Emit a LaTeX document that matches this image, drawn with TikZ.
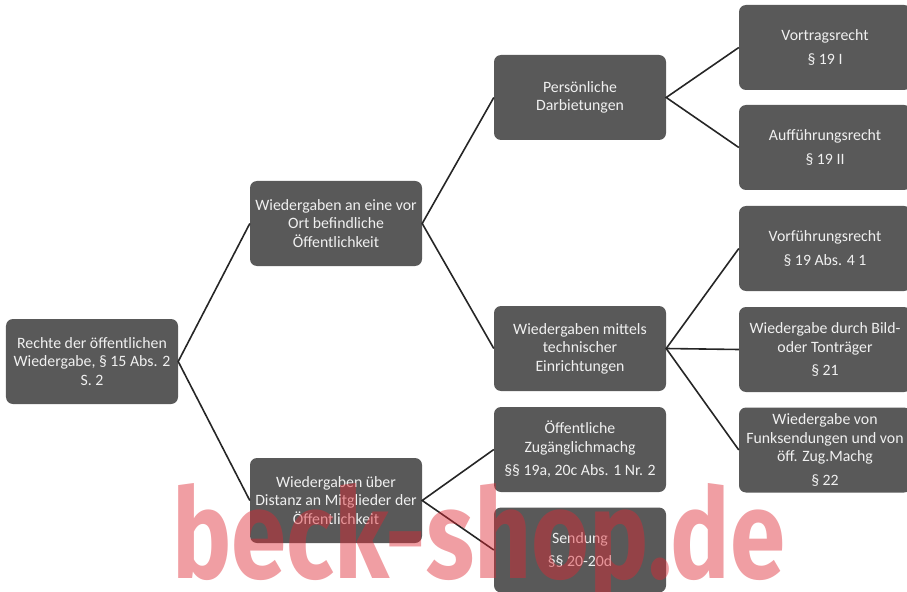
\documentclass[tikz,border=0pt]{standalone}
\usepackage{fontspec}
\setmainfont{Carlito}
\newfontfamily\wmfont{Fira Sans}
\usepackage{graphicx}
\definecolor{boxgray}{RGB}{89,89,89}
\definecolor{boxtext}{RGB}{240,240,240}
\definecolor{wmred}{RGB}{222,40,50}
\tikzset{
  rbox/.style={draw=none,fill=boxgray,rounded corners=7bp,minimum width=172bp,minimum height=85bp,
    align=center,text=boxtext,font=\fontsize{15.8bp}{18.5bp}\selectfont,inner sep=1bp},
  ast/.style={draw=black!85,line width=1.6bp}
}
\newcommand{\pgap}{\\[5bp]}

\begin{document}
\begin{tikzpicture}[x=1bp,y=-1bp]
\useasboundingbox (0,0) rectangle (907,592);

% root
\node[rbox] (rechte) at (92,361.5) {Rechte der öffentlichen\\Wiedergabe, § 15 Abs. 2\\S. 2};

% level 1
\node[rbox] (vorort) at (336,223.5) {Wiedergaben an eine vor\\Ort befindliche\\Öffentlichkeit};
\node[rbox] (distanz) at (336,500.5) {Wiedergaben über\\Distanz an Mitglieder der\\Öffentlichkeit};

% level 2
\node[rbox] (darb) at (580,97.5) {Persönliche\\Darbietungen};
\node[rbox] (techn) at (580,348.5) {Wiedergaben mittels\\technischer\\Einrichtungen};
\node[rbox] (zugang) at (580,449.5) {Öffentliche\\Zugänglichmachg\pgap §§ 19a, 20c Abs. 1 Nr. 2};
\node[rbox] (sendung) at (580,550) {Sendung\pgap §§ 20-20d};

% level 3
\node[rbox] (vortrag) at (825,47.5) {Vortragsrecht\pgap § 19 I};
\node[rbox] (auffuehr) at (825,147.5) {Aufführungsrecht\pgap § 19 II};
\node[rbox] (vorfuehr) at (825,248.5) {Vorführungsrecht\pgap § 19 Abs. 4 1};
\node[rbox] (bildton) at (825,349.5) {Wiedergabe durch Bild-\\oder Tonträger\pgap § 21};
\node[rbox] (funk) at (825,450) {Wiedergabe von\\Funksendungen und von\\öff. Zug.Machg\pgap § 22};

% connectors
\draw[ast] (vorort.west) -- (rechte.east) -- (distanz.west);
\draw[ast] (darb.west) -- (vorort.east) -- (techn.west);
\draw[ast] (zugang.west) -- (distanz.east) -- (sendung.west);
\draw[ast] (vortrag.west) -- (darb.east) -- (auffuehr.west);
\draw[ast] (vorfuehr.west) -- (techn.east) -- (funk.west);
\draw[ast] (techn.east) -- (bildton.west);

% watermark
\node[anchor=base west,inner sep=0pt,text=wmred,text opacity=0.45] (wm) at (172,578)
  {\resizebox{613bp}{95bp}{\wmfont\bfseries beck-shop.de}};
\end{tikzpicture}
\end{document}
